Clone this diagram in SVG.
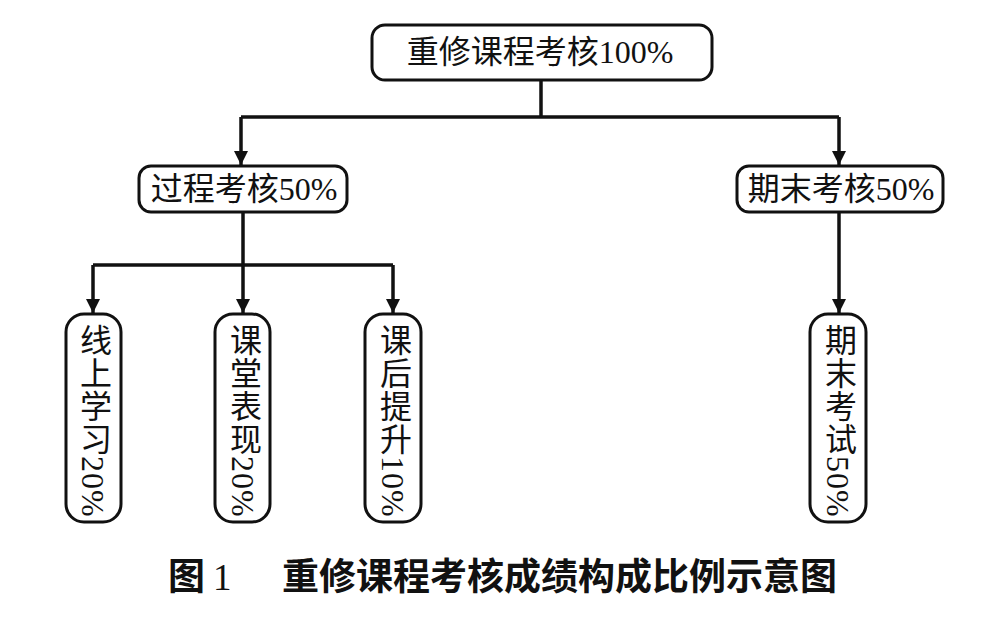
<svg xmlns="http://www.w3.org/2000/svg" width="1008" height="628" viewBox="0 0 1008 628">
<style>
.box{fill:#fff;stroke:#111;stroke-width:3}
.t{font-family:"Liberation Serif","Noto Sans CJK SC",serif;font-size:32px;fill:#111}
.h{text-anchor:middle}
.v{writing-mode:vertical-rl;font-family:"Liberation Serif","Noto Sans CJK SC",serif;font-size:32px;letter-spacing:1px;fill:#111}
.c{fill:none;stroke:#111;stroke-width:3.5}
.cap{font-family:"Noto Sans CJK SC",sans-serif;font-weight:bold;font-size:37px;fill:#111}
</style>
<defs>
<marker id="ah" viewBox="0 0 10 10" refX="10" refY="5" markerWidth="4" markerHeight="4" markerUnits="strokeWidth" orient="auto">
<path d="M0,0 L10,5 L0,10 z" fill="#111"/>
</marker>
</defs>
<rect width="1008" height="628" fill="#fff"/>
<g id="connectors">
<path class="c" d="M541 80 V117"/>
<path class="c" d="M241 117 H839"/>
<path class="c" d="M241 117 V165" marker-end="url(#ah)"/>
<path class="c" d="M839 117 V165" marker-end="url(#ah)"/>
<path class="c" d="M243 212 V265"/>
<path class="c" d="M93 265 H393"/>
<path class="c" d="M93 265 V313" marker-end="url(#ah)"/>
<path class="c" d="M243 265 V313" marker-end="url(#ah)"/>
<path class="c" d="M393 265 V313" marker-end="url(#ah)"/>
<path class="c" d="M839 212 V313" marker-end="url(#ah)"/>
</g>
<g id="root">
<rect class="box" x="372" y="25" width="340" height="55" rx="13"/>
<text class="t h" x="540" y="63" font-size="33">重修课程考核100%</text>
</g>
<g id="process">
<rect class="box" x="139" y="166" width="208" height="46" rx="12"/>
<text class="t h" x="244" y="200">过程考核50%</text>
</g>
<g id="final">
<rect class="box" x="737" y="166" width="206" height="46" rx="12"/>
<text class="t h" x="841" y="200">期末考核50%</text>
</g>
<g id="online">
<rect class="box" x="66" y="314" width="55" height="208" rx="18"/>
<text class="v" x="93" y="324">线上学习20%</text>
</g>
<g id="classroom">
<rect class="box" x="215" y="314" width="55" height="208" rx="18"/>
<text class="v" x="243" y="324">课堂表现20%</text>
</g>
<g id="after">
<rect class="box" x="365" y="314" width="56" height="208" rx="18"/>
<text class="v" x="393" y="324">课后提升10%</text>
</g>
<g id="exam">
<rect class="box" x="810" y="314" width="56" height="208" rx="18"/>
<text class="v" x="838" y="324">期末考试50%</text>
</g>
<g id="caption">
<text class="cap" y="590"><tspan x="168">图</tspan><tspan x="213" font-family="Liberation Serif,serif" font-weight="normal">1</tspan><tspan x="282">重修课程考核成绩构成比例示意图</tspan></text>
</g>
</svg>
